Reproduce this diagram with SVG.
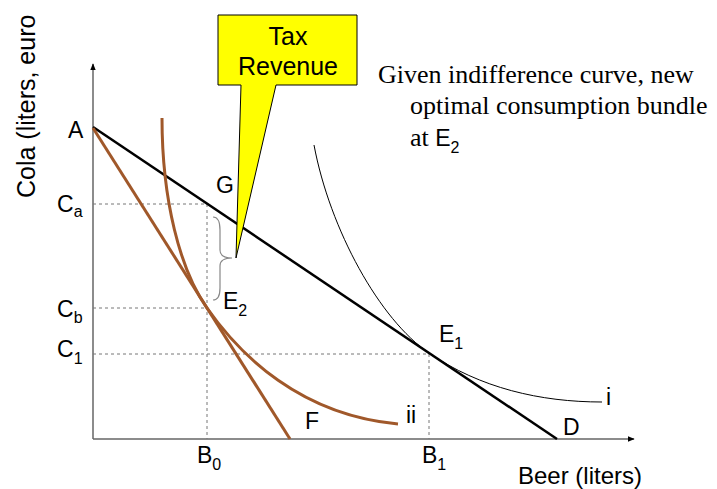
<svg xmlns="http://www.w3.org/2000/svg" width="717" height="489" viewBox="0 0 717 489">
<style>
.lbl{font-family:"Liberation Sans",Arial,sans-serif;font-size:23px;fill:#000}
.sub{font-size:16px}
.serif{font-family:"Liberation Serif","Times New Roman",serif;font-size:26px;fill:#000}
.dash{stroke:#777;stroke-width:1;stroke-dasharray:3,3;fill:none}
.axis{stroke:#666;stroke-width:1.5;fill:none}
.brown{stroke:#a0582a;stroke-width:3;fill:none}
</style>
<defs>
<marker id="arr" viewBox="0 0 10 10" refX="9" refY="5" markerWidth="7" markerHeight="7" orient="auto" markerUnits="userSpaceOnUse">
<path d="M0,1 L10,5 L0,9 z" fill="#000"/>
</marker>
</defs>
<g id="axes">
<line class="axis" x1="93" y1="439" x2="93" y2="64" marker-end="url(#arr)"/>
<line class="axis" x1="93" y1="439" x2="634" y2="439" marker-end="url(#arr)"/>
<text class="lbl" style="font-size:25px" transform="translate(35,198) rotate(-90)">Cola (liters, euro</text>
<text class="lbl" style="font-size:24px" x="518" y="484">Beer (liters)</text>
</g>
<g id="guides">
<polyline class="dash" points="93,204 207,204 207,439"/>
<line class="dash" x1="93" y1="308" x2="207" y2="308"/>
<polyline class="dash" points="93,354 429,354 429,439"/>
</g>
<g id="connectors">
<line x1="93" y1="127" x2="557" y2="439" stroke="#000" stroke-width="2.5"/>
<line class="brown" x1="93" y1="128" x2="290" y2="439"/>
<path class="brown" d="M162,118 C162,200 180,270 207,308 C240,355 300,415 398,424"/>
<path d="M314,145 C330,230 380,320 429,353 C480,388 540,402 602,402" stroke="#000" stroke-width="1" fill="none"/>
<path d="M213,217 Q220,217 220,230 L220,250 Q220,258 232,258 Q220,258 220,266 L220,288 Q220,300 213,300" stroke="#888" stroke-width="1.2" fill="none"/>
</g>
<g id="callout">
<path d="M218,15 H357 V85 H276 L236,258 L241,85 H218 Z" fill="#ffff00" stroke="#000" stroke-width="1"/>
<text class="lbl" style="font-size:25px" x="288" y="45" text-anchor="middle">Tax</text>
<text class="lbl" style="font-size:25px" x="288" y="75" text-anchor="middle">Revenue</text>
</g>
<g id="labels">
<text class="lbl" x="68" y="138">A</text>
<text class="lbl" x="216" y="193">G</text>
<text class="lbl" x="57" y="212">C<tspan class="sub" dy="5">a</tspan></text>
<text class="lbl" x="57" y="317">C<tspan class="sub" dy="6">b</tspan></text>
<text class="lbl" x="57" y="357">C<tspan class="sub" dy="7">1</tspan></text>
<text class="lbl" x="223" y="309">E<tspan class="sub" dy="7">2</tspan></text>
<text class="lbl" x="439" y="342">E<tspan class="sub" dy="7">1</tspan></text>
<text class="lbl" x="305" y="429">F</text>
<text class="lbl" x="406" y="423">ii</text>
<text class="lbl" x="606" y="405">i</text>
<text class="lbl" x="563" y="435">D</text>
<text class="lbl" x="197" y="463">B<tspan class="sub" dy="7">0</tspan></text>
<text class="lbl" x="422" y="463">B<tspan class="sub" dy="7">1</tspan></text>
</g>
<g id="note">
<text class="serif" x="378" y="83">Given indifference curve, new</text>
<text class="serif" x="410" y="114">optimal consumption bundle</text>
<text class="serif" x="410" y="146">at <tspan class="lbl">E</tspan><tspan class="lbl sub" dy="7">2</tspan></text>
</g>
</svg>
